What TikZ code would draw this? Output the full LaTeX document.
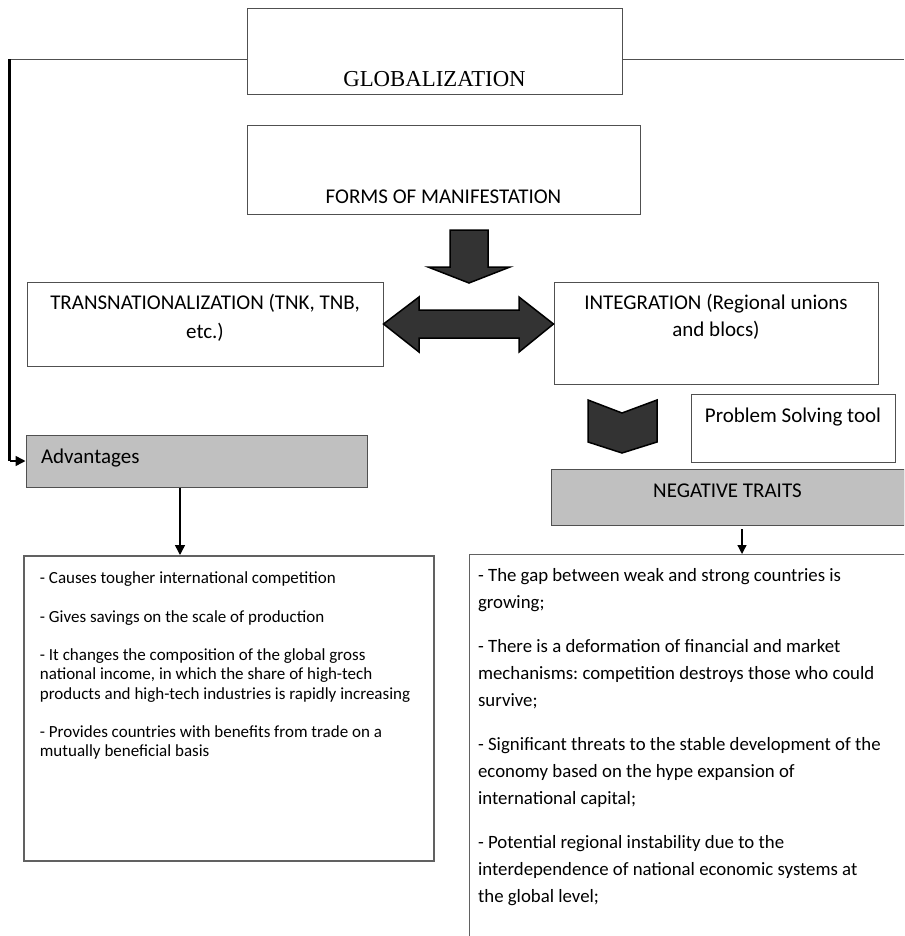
\documentclass[tikz,border=0pt]{standalone}
\usepackage{fontspec}
\setmainfont{Carlito}
\newfontfamily\serifT{Liberation Serif}
\usetikzlibrary{arrows.meta}
\frenchspacing
\definecolor{boxgray}{RGB}{192,192,192}
\definecolor{arrfill}{RGB}{51,51,51}
\definecolor{edge}{RGB}{80,80,80}
\tikzset{
  box/.style={draw=edge, line width=1pt, inner sep=0pt, fill=white},
  graybox/.style={box, fill=boxgray},
  bodybox/.style={draw=edge!90, line width=1.8pt, inner ysep=0pt, align=flush left, anchor=north west},
  lbl/.style={font=\fontsize{21}{28.5}\selectfont, align=center},
  blockarrow/.style={fill=arrfill, draw=black, line width=1.5pt, line join=miter},
  conn/.style={draw=black, line width=1.5pt},
  arr/.style={conn, -{Triangle[length=10pt,width=10pt]}}
}
\begin{document}
\begin{tikzpicture}[x=1pt,y=-1pt]
\useasboundingbox (0,0) rectangle (904,936);
\clip (0,0) rectangle (904,936);
\fill[white] (0,0) rectangle (904,936);

% top boxes
\node[box, minimum width=375pt, text height=78pt, text depth=8pt, font=\serifT\fontsize{22.8}{25}\selectfont] (glob) at (434.5,52) {GLOBALIZATION};
\node[box, lbl, minimum width=393pt, text height=77pt, text depth=11pt] (forms) at (443.5,170) {FORMS OF MANIFESTATION};

\node[box, lbl, minimum width=356pt, text height=56pt, text depth=28pt] (trans) at (205,324) {TRANSNATIONALIZATION (TNK, TNB,\\ etc.)};
\node[box, lbl, minimum width=324pt, text height=54pt, text depth=48pt, font=\fontsize{21}{27}\selectfont] (integ) at (716,333) {INTEGRATION (Regional unions\\ and blocs)};

\node[box, lbl, minimum width=204pt, text height=28pt, text depth=40pt] (pst) at (793,428) {Problem Solving tool};
\node[graybox, lbl, minimum width=353pt, text height=28pt, text depth=28pt] (neg) at (727.5,497) {NEGATIVE TRAITS};

\node[graybox, lbl, align=left, text width=311pt, inner xsep=15pt, text height=28pt, text depth=24pt] (adv) at (196.5,461) {Advantages};

% body boxes
\node[bodybox, text width=378pt, inner xsep=16pt, text height=28pt, text depth=277pt, font=\fontsize{17}{19.2}\selectfont] (advbody) at (23,555) {%
- Causes tougher international competition\\[19.2pt]
- Gives savings on the scale of production\\[19.2pt]
- It changes the composition of the global gross\\
national income, in which the share of high-tech\\
products and high-tech industries is rapidly increasing\\[19.2pt]
- Provides countries with benefits from trade on a\\
mutually beneficial basis};

\node[bodybox, line width=1.2pt, text width=430pt, inner xsep=8.5pt, text height=27pt, text depth=400pt, font=\fontsize{18.8}{27}\selectfont] (negbody) at (469,554) {%
- The gap between weak and strong countries is\\
growing;\\[17pt]
- There is a deformation of financial and market\\
mechanisms: competition destroys those who could\\
survive;\\[17pt]
- Significant threats to the stable development of the\\
economy based on the hype expansion of\\
international capital;\\[17pt]
- Potential regional instability due to the\\
interdependence of national economic systems at\\
the global level;};

% block arrows
\draw[blockarrow] (450,230) -- (488,230) -- (488,267) -- (510,267) -- (469,283) -- (428,267) -- (450,267) -- cycle;
\draw[blockarrow] (trans.east) -- (419,297) -- (419,310) -- (519,310) -- (519,297) -- (integ.west |- trans.east) -- (519,352) -- (519,338) -- (419,338) -- (419,352) -- cycle;
\draw[blockarrow] (588,400) -- (622,413) -- (657,400) -- (657,442) -- (622,453) -- (588,442) -- cycle;

% connectors
\coordinate (lcorner) at (9.5,60);
\coordinate (rend) at (904,60);
\draw[draw=edge, line width=1pt] ([yshift=-8pt]glob.west) -- (lcorner);
\draw[draw=edge, line width=1pt] ([yshift=-8pt]glob.east) -- (rend);
\draw[conn, line width=2.5pt] ([yshift=0.5pt]lcorner) -- (lcorner |- adv.west);
\draw[arr] (lcorner |- adv.west) -- (adv.west);
\draw[arr] (adv.south -| 180,0) -- (advbody.north -| 180,0);
\coordinate (negtick) at (742,529);
\draw[conn, line width=1.3pt, -{Triangle[length=9pt,width=9pt]}] (negtick) -- (negbody.north -| negtick);
\end{tikzpicture}
\end{document}
